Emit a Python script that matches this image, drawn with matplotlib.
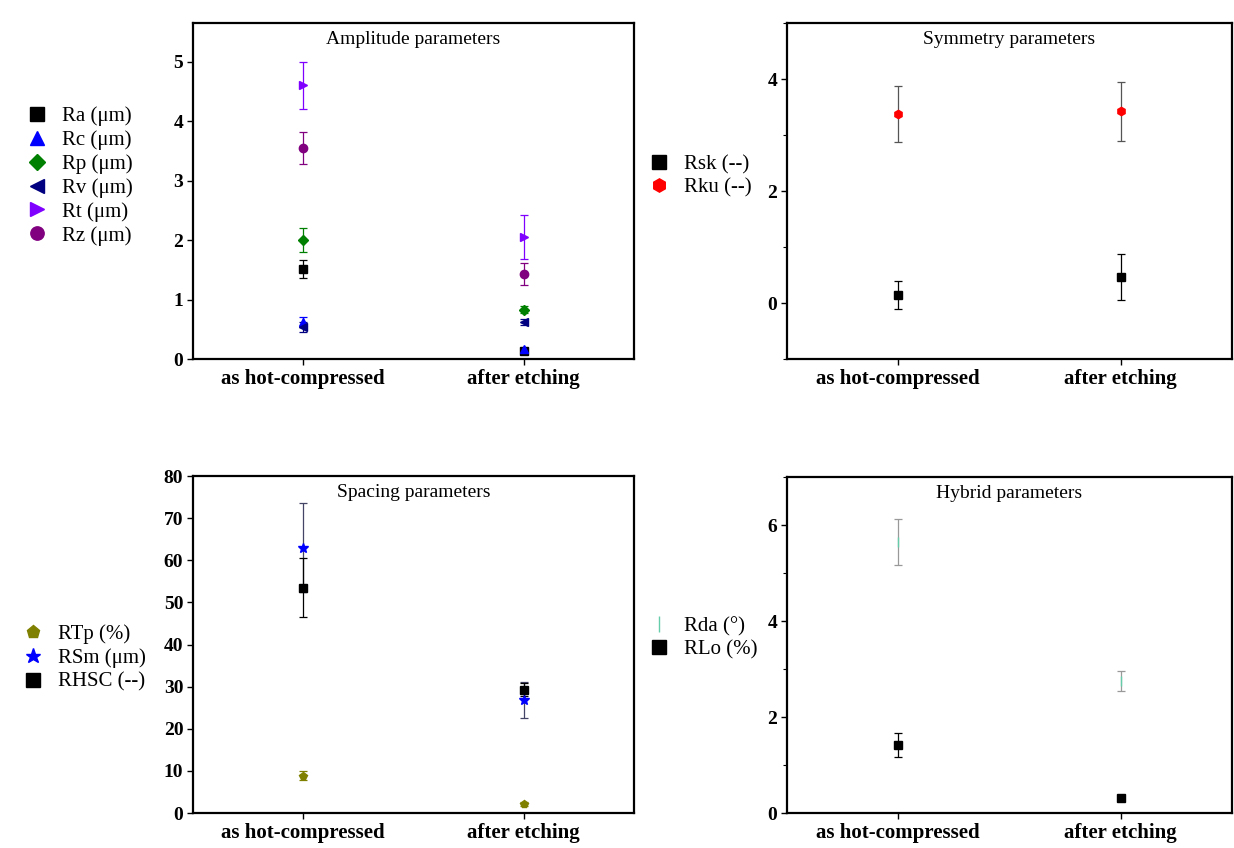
import matplotlib
matplotlib.use("Agg")
import matplotlib.pyplot as plt
from matplotlib.ticker import MultipleLocator

plt.rcParams["font.family"] = ["Liberation Serif", "DejaVu Serif"]

states = ["as hot-compressed", "after etching"]

# Amplitude parameters (mean, std)
ra = [1.52, 0.14]
ra_err = [0.15, 0.03]
rc = [0.62, 0.16]
rc_err = [0.08, 0.03]
rp = [2.0, 0.83]
rp_err = [0.2, 0.06]
rv = [0.54, 0.62]
rv_err = [0.08, 0.05]
rt = [4.6, 2.05]
rt_err = [0.4, 0.37]
rz = [3.55, 1.43]
rz_err = [0.27, 0.18]

# Symmetry parameters
rsk = [0.15, 0.46]
rsk_err = [0.25, 0.41]
rku = [3.37, 3.42]
rku_err = [0.5, 0.52]

# Spacing parameters
rtp = [8.9, 2.2]
rtp_err = [1.0, 0.5]
rsm = [63.0, 26.8]
rsm_err = [10.5, 4.2]
rhsc = [53.5, 29.3]
rhsc_err = [7.0, 1.5]

# Hybrid parameters
rda = [5.65, 2.75]
rda_err = [0.48, 0.2]
rlo = [1.41, 0.32]
rlo_err = [0.25, 0.05]

W, H = 1234, 848
fig = plt.figure(figsize=(W / 100, H / 100), dpi=100)


def rect(x0, x1, y0, y1):
    return [x0 / W, 1 - y1 / H, (x1 - x0) / W, (y1 - y0) / H]


xpos = [1, 2]


def style(ax, title, ylim, major, minor=None):
    ax.set_xlim(0.5, 2.5)
    ax.set_ylim(*ylim)
    ax.set_xticks(xpos)
    ax.set_xticklabels(states, fontsize=15, fontweight="bold")
    ax.yaxis.set_major_locator(MultipleLocator(major))
    if minor:
        ax.yaxis.set_minor_locator(MultipleLocator(minor))
    for lab in ax.get_yticklabels():
        lab.set_fontweight("bold")
        lab.set_fontsize(14)
    ax.tick_params(axis="both", direction="out", length=4, width=1, pad=3)
    ax.tick_params(axis="y", which="minor", length=3, width=0.8)
    for s in ax.spines.values():
        s.set_linewidth(1.6)
    ax.text(0.5, 0.95, title, transform=ax.transAxes, ha="center",
            va="center", fontsize=14)


def series(ax, vals, errs, marker, color, label, ms=6, ecolor=None):
    ax.errorbar(xpos, vals, yerr=errs, fmt=marker, color=color,
                ecolor=ecolor or color, elinewidth=0.9, capsize=3,
                capthick=0.9, markersize=ms, label=label, linestyle="none")


def side_legend(ax, x, y):
    # legend keys show the marker only, without the error bar
    handles, labels = ax.get_legend_handles_labels()
    handles = [h[0] for h in handles]
    leg = ax.legend(handles, labels, loc="upper left",
                    bbox_to_anchor=(x / W, 1 - y / H),
                    bbox_transform=fig.transFigure, frameon=False,
                    fontsize=15, markerscale=1.6, handlelength=1.0,
                    handletextpad=0.7, labelspacing=0.2, borderpad=0)
    return leg


# Amplitude
ax1 = fig.add_axes(rect(193, 634, 23, 359))
series(ax1, ra, ra_err, "s", "#000000", "Ra (μm)")
series(ax1, rc, rc_err, "^", "#0000ff", "Rc (μm)")
series(ax1, rp, rp_err, "D", "#008000", "Rp (μm)", ms=5)
series(ax1, rv, rv_err, "<", "#000080", "Rv (μm)")
series(ax1, rt, rt_err, ">", "#7f00ff", "Rt (μm)")
series(ax1, rz, rz_err, "o", "#800080", "Rz (μm)")
style(ax1, "Amplitude parameters", (0, 5.65), 1)
side_legend(ax1, 16, 96)

# Symmetry
ax2 = fig.add_axes(rect(787, 1232, 23, 359))
series(ax2, rsk, rsk_err, "s", "#000000", "Rsk (--)")
series(ax2, rku, rku_err, "h", "#ff0000", "Rku (--)", ecolor="#555555")
style(ax2, "Symmetry parameters", (-1, 5), 2, 1)
side_legend(ax2, 638, 144)

# Spacing
ax3 = fig.add_axes(rect(193, 634, 476, 813))
series(ax3, rtp, rtp_err, "p", "#808000", "RTp (%)")
series(ax3, rsm, rsm_err, "*", "#0000ff", "RSm (μm)", ms=7, ecolor="#444466")
series(ax3, rhsc, rhsc_err, "s", "#000000", "RHSC (--)")
style(ax3, "Spacing parameters", (0, 80), 10)
side_legend(ax3, 12, 614)

# Hybrid
ax4 = fig.add_axes(rect(787, 1232, 477, 813))
series(ax4, rda, rda_err, "|", "#66cdaa", "Rda (°)", ms=7, ecolor="#999999")
series(ax4, rlo, rlo_err, "s", "#000000", "RLo (%)")
style(ax4, "Hybrid parameters", (0, 7), 2, 1)
side_legend(ax4, 638, 606)

fig.savefig("out.png", dpi=100)
